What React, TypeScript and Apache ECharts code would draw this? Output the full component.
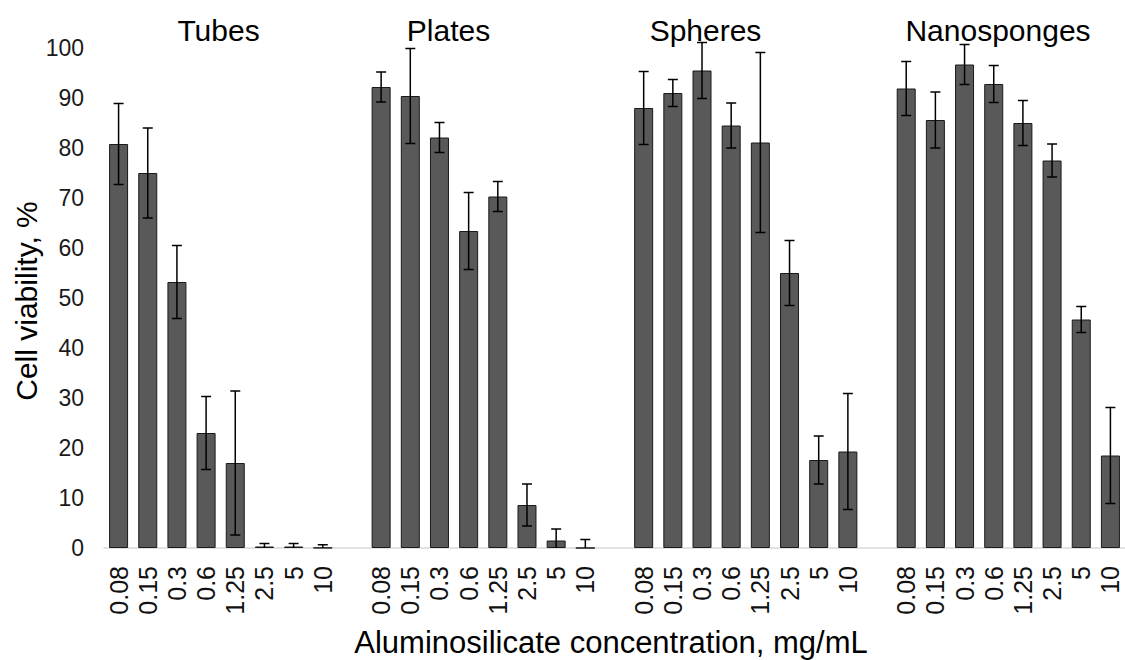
import React, { useEffect, useRef } from "react";
import * as echarts from "echarts";

const concentrations = ["0.08", "0.15", "0.3", "0.6", "1.25", "2.5", "5", "10"];
const groups = ["Tubes", "Plates", "Spheres", "Nanosponges"];

const tubesMean = [80.8, 75.0, 53.2, 23.0, 17.0, 0.3, 0.3, 0.05];
const tubesErr = [8.1, 9.0, 7.3, 7.3, 14.4, 0.6, 0.6, 0.6];
const platesMean = [92.2, 90.4, 82.1, 63.4, 70.3, 8.6, 1.5, 0];
const platesErr = [3.0, 9.5, 3.0, 7.7, 3.0, 4.2, 2.3, 1.7];
const spheresMean = [88.0, 91.0, 95.5, 84.5, 81.1, 55.0, 17.6, 19.3];
const spheresErr = [7.3, 2.7, 5.6, 4.5, 18.0, 6.5, 4.8, 11.6];
const nanoMean = [91.9, 85.6, 96.7, 92.8, 85.0, 77.5, 45.7, 18.5];
const nanoErr = [5.4, 5.6, 4.0, 3.7, 4.5, 3.3, 2.6, 9.6];

const yTicks = { min: 0, max: 100, interval: 10 };
const xAxisTitle = "Aluminosilicate concentration, mg/mL";
const yAxisTitle = "Cell viability, %";

const FONT = "'Liberation Sans', Arial, sans-serif";

export default function App() {
  const ref = useRef<HTMLDivElement>(null);

  useEffect(() => {
    document.body.style.margin = "0";
    if (!ref.current) return;
    const chart = echarts.init(ref.current, undefined, { renderer: "svg" });

    const means = [tubesMean, platesMean, spheresMean, nanoMean];
    const errs = [tubesErr, platesErr, spheresErr, nanoErr];

    const categories: string[] = [];
    const barData: (number | null)[] = [];
    const errData: number[][] = [];
    groups.forEach((g, gi) => {
      if (gi > 0) {
        categories.push("");
        barData.push(null);
      }
      concentrations.forEach((c, ci) => {
        const idx = categories.length;
        categories.push(c);
        const m = means[gi][ci];
        const e = errs[gi][ci];
        barData.push(m);
        errData.push([idx, Math.max(0, m - e), m + e]);
      });
    });

    const titleX = [218.5, 448.5, 705.5, 998];

    chart.setOption({
      animation: false,
      backgroundColor: "#ffffff",
      textStyle: { fontFamily: FONT },
      grid: { left: 104, top: 48, height: 500, width: 1025.5 },
      xAxis: {
        type: "category",
        data: categories,
        boundaryGap: true,
        axisLine: { show: true, lineStyle: { color: "#d9d9d9", width: 1.5 } },
        axisTick: { show: false },
        axisLabel: {
          interval: 0,
          rotate: 90,
          fontSize: 25,
          color: "#111",
          margin: 18,
          fontFamily: FONT,
        },
        splitLine: { show: false },
      },
      yAxis: {
        type: "value",
        min: yTicks.min,
        max: yTicks.max,
        interval: yTicks.interval,
        axisLine: { show: false },
        axisTick: { show: false },
        splitLine: { show: false },
        axisLabel: { fontSize: 23, color: "#1a1a1a", margin: 20, fontFamily: FONT },
      },
      series: [
        {
          type: "bar",
          data: barData,
          barWidth: 19,
          itemStyle: { color: "#595959", borderColor: "#1a1a1a", borderWidth: 1 },
          z: 2,
        },
        {
          type: "custom",
          data: errData,
          z: 3,
          renderItem: (params: any, api: any) => {
            const idx = api.value(0);
            const low = api.value(1);
            const high = api.value(2);
            const pLow = api.coord([idx, low]);
            const pHigh = api.coord([idx, high]);
            const half = 5;
            const style = { stroke: "#000", lineWidth: 1.5 };
            const children: any[] = [
              {
                type: "line",
                shape: { x1: pHigh[0], y1: pHigh[1], x2: pLow[0], y2: pLow[1] },
                style,
              },
              {
                type: "line",
                shape: { x1: pHigh[0] - half, y1: pHigh[1], x2: pHigh[0] + half, y2: pHigh[1] },
                style,
              },
            ];
            if (low > 0) {
              children.push({
                type: "line",
                shape: { x1: pLow[0] - half, y1: pLow[1], x2: pLow[0] + half, y2: pLow[1] },
                style,
              });
            }
            return { type: "group", children };
          },
        },
      ],
      graphic: [
        ...groups.map((g, i) => ({
          type: "text",
          x: titleX[i],
          y: 30,
          style: {
            text: g,
            font: `30px ${FONT}`,
            fill: "#000",
            textAlign: "center",
            textVerticalAlign: "middle",
          },
        })),
        {
          type: "text",
          x: 611,
          y: 642,
          style: {
            text: xAxisTitle,
            font: `31px ${FONT}`,
            fill: "#000",
            textAlign: "center",
            textVerticalAlign: "middle",
          },
        },
        {
          type: "text",
          x: 26,
          y: 301,
          rotation: Math.PI / 2,
          style: {
            text: yAxisTitle,
            font: `30px ${FONT}`,
            fill: "#000",
            textAlign: "center",
            textVerticalAlign: "middle",
          },
        },
      ],
    });

    return () => chart.dispose();
  }, []);

  return <div ref={ref} style={{ width: 1125, height: 660 }} />;
}
